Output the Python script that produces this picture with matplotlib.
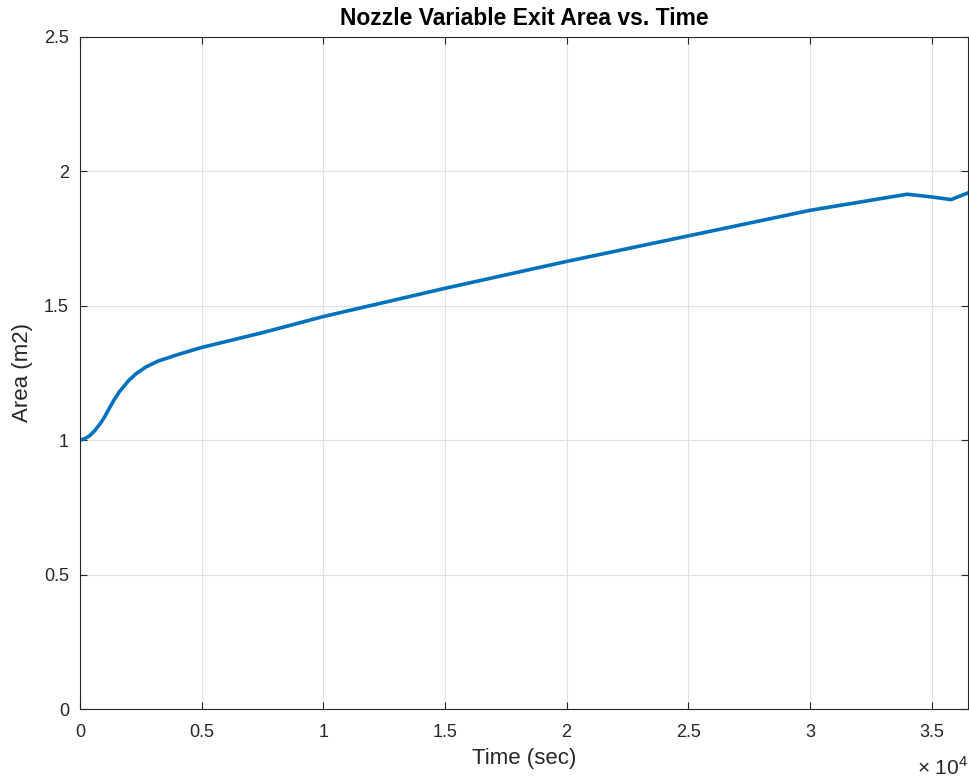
import numpy as np
import matplotlib.pyplot as plt

# data
time_s = [0, 200, 400, 600, 800, 1000, 1200, 1400, 1600, 1800, 2000, 2300,
          2700, 3200, 4000, 5000, 7500, 10000, 15000, 20000, 25000, 30000,
          33000, 34000, 35000, 35800, 36500]
area_m2 = [1.0, 1.006, 1.017, 1.035, 1.058, 1.085, 1.118, 1.15, 1.178, 1.2,
           1.222, 1.247, 1.272, 1.294, 1.318, 1.345, 1.40, 1.46, 1.565,
           1.665, 1.76, 1.855, 1.90, 1.915, 1.905, 1.895, 1.92]
x_ticks = [0, 5000, 10000, 15000, 20000, 25000, 30000, 35000]
x_tick_labels = ["0", "0.5", "1", "1.5", "2", "2.5", "3", "3.5"]
y_ticks = [0, 0.5, 1, 1.5, 2, 2.5]
y_tick_labels = ["0", "0.5", "1", "1.5", "2", "2.5"]

plt.rcParams['font.family'] = ['Liberation Sans', 'DejaVu Sans']
plt.rcParams['mathtext.fontset'] = 'custom'
plt.rcParams['mathtext.rm'] = 'Liberation Sans'
axcol = "#262626"

fig = plt.figure(figsize=(9.7, 7.8), dpi=100)
ax = fig.add_axes([0.0825, 0.091, 0.9155, 0.8616])

ax.plot(time_s, area_m2, color="#0072BD", lw=2.6)

ax.set_xlim(0, 36500)
ax.set_ylim(0, 2.5)
ax.set_xticks(x_ticks)
ax.set_xticklabels(x_tick_labels)
ax.set_yticks(y_ticks)
ax.set_yticklabels(y_tick_labels)

ax.grid(True, color="#e0e0e0", lw=0.8)
ax.tick_params(direction="in", top=True, right=True, length=5, width=0.8,
               colors=axcol, labelsize=13)
ax.tick_params(axis="x", pad=11)
ax.tick_params(axis="y", pad=8)
for s in ax.spines.values():
    s.set_color(axcol)
    s.set_linewidth(0.8)

ax.set_title("Nozzle Variable Exit Area vs. Time", fontsize=16.5,
             fontweight="bold", color="black", pad=8.6)
ax.set_xlabel("Time (sec)", fontsize=16, color=axcol, labelpad=5)
ax.set_ylabel("Area (m2)", fontsize=16, color=axcol, labelpad=8)

# exponent label like MATLAB's x10^4
ax.text(1.0, -0.098, "\u00d7 10$^{4}$", transform=ax.transAxes,
        ha="right", va="baseline", fontsize=15, color=axcol)

fig.savefig("out.png", dpi=100)
